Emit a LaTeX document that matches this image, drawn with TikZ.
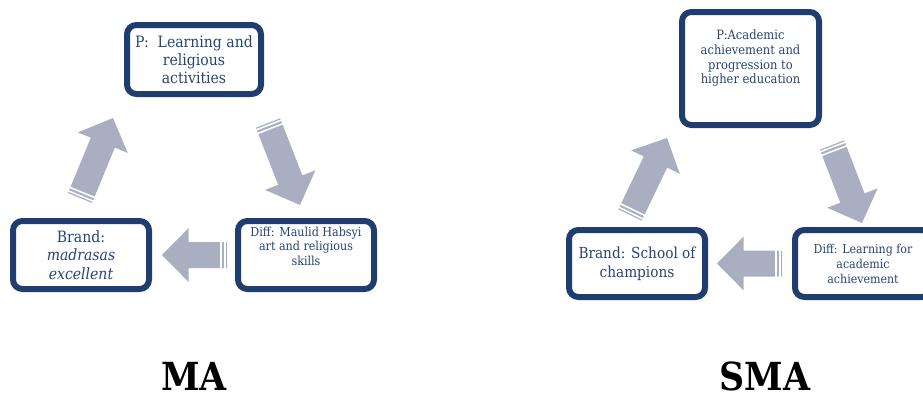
\documentclass[tikz,border=0pt]{standalone}
\usepackage{fontspec}
\setmainfont{DejaVu Serif Condensed}
\usetikzlibrary{calc}

\definecolor{boxblue}{RGB}{31,61,110}
\definecolor{txtblue}{RGB}{40,68,116}
\definecolor{arrowgray}{RGB}{169,175,192}

\tikzset{
  cyclebox/.style={draw=boxblue, line width=4.5pt, rounded corners=7pt,
    fill=white, text=txtblue, align=center, inner sep=1pt},
  boxtext/.style={text=txtblue, align=center, inner sep=0pt},
  titletext/.style={font=\fontsize{29}{33}\selectfont\bfseries, inner sep=0pt}
}

\newcommand\shaftw{9.75pt}
\newcommand\headw{20.25pt}
\newcommand\headl{20pt}

% block arrow with two white stripes at its tail
\newcommand\stripedarrow[2]{%
  \fill[arrowgray] let \p1=($(#2)-(#1)$), \n1={atan2(\y1,\x1)}, \n2={veclen(\x1,\y1)} in
    ($(#1)+(\n1+90:\shaftw)$) -- ($(#1)+(\n1:\n2-\headl)+(\n1+90:\shaftw)$)
    -- ($(#1)+(\n1:\n2-\headl)+(\n1+90:\headw)$) -- (#2)
    -- ($(#1)+(\n1:\n2-\headl)+(\n1-90:\headw)$) -- ($(#1)+(\n1:\n2-\headl)+(\n1-90:\shaftw)$)
    -- ($(#1)+(\n1-90:\shaftw)$) -- cycle;
  \draw[white, line width=1.2pt] let \p1=($(#2)-(#1)$), \n1={atan2(\y1,\x1)} in
    ($(#1)+(\n1:1.6pt)+(\n1+90:11pt)$) -- ($(#1)+(\n1:1.6pt)+(\n1-90:11pt)$)
    ($(#1)+(\n1:4.5pt)+(\n1+90:11pt)$) -- ($(#1)+(\n1:4.5pt)+(\n1-90:11pt)$);
}

\begin{document}
\begin{tikzpicture}[x=0.75pt, y=-0.75pt]
  \useasboundingbox (0,0) rectangle (923,397);

  % MA
  \node[cyclebox, minimum width=100.5pt, minimum height=51.75pt,
    font=\fontsize{11.7}{13.6}\selectfont] (maP) at (194,59.5)
    {P:\ \ Learning and\\religious\\activities};
  \node[cyclebox, minimum width=102pt, minimum height=51pt,
    font=\fontsize{11.7}{14}\selectfont] (maBrand) at (81,255)
    {Brand:\\\textit{madrasas}\\\textit{excellent}};
  \node[cyclebox, minimum width=102pt, minimum height=51pt] (maDiff) at (306,255) {};
  \node[boxtext, font=\fontsize{9.3}{10.8}\selectfont, yshift=6.75pt] (maDiffText)
    at (maDiff.center) {Diff: Maulid Habsyi\\art and religious\\skills};

  \coordinate (maUpTail) at (80,198);
  \coordinate (maUpTip) at (113,118);
  \coordinate (maDownTail) at (268,123);
  \coordinate (maDownTip) at (300,205);
  \coordinate (maLeftTail) at (227,255);
  \coordinate (maLeftTip) at (162,255);

  \node[titletext] (maTitle) at (194,376) {MA};

  % SMA
  \node[cyclebox, minimum width=102.75pt, minimum height=84.75pt] (smaP) at (750.5,68.5) {};
  \node[boxtext, font=\fontsize{9.6}{11}\selectfont, yshift=7.5pt] (smaPText)
    at (smaP.center) {P:Academic\\achievement and\\progression to\\higher education};
  \node[cyclebox, minimum width=102pt, minimum height=50.25pt,
    font=\fontsize{11.4}{14.3}\selectfont] (smaBrand) at (637,263.5)
    {Brand: School of\\champions};
  \node[cyclebox, minimum width=102pt, minimum height=50.25pt,
    font=\fontsize{9.2}{11.2}\selectfont] (smaDiff) at (863,263.5)
    {Diff: Learning for\\academic\\achievement};

  \coordinate (smaUpTail) at (630,215);
  \coordinate (smaUpTip) at (667,138);
  \coordinate (smaDownTail) at (832,145);
  \coordinate (smaDownTip) at (862,223);
  \coordinate (smaLeftTail) at (782,263.5);
  \coordinate (smaLeftTip) at (717,263.5);

  \node[titletext] (smaTitle) at (765,376) {SMA};

  \foreach \t/\h in {maUpTail/maUpTip, maDownTail/maDownTip, maLeftTail/maLeftTip,
      smaUpTail/smaUpTip, smaDownTail/smaDownTip, smaLeftTail/smaLeftTip}
    \stripedarrow{\t}{\h};
\end{tikzpicture}
\end{document}
